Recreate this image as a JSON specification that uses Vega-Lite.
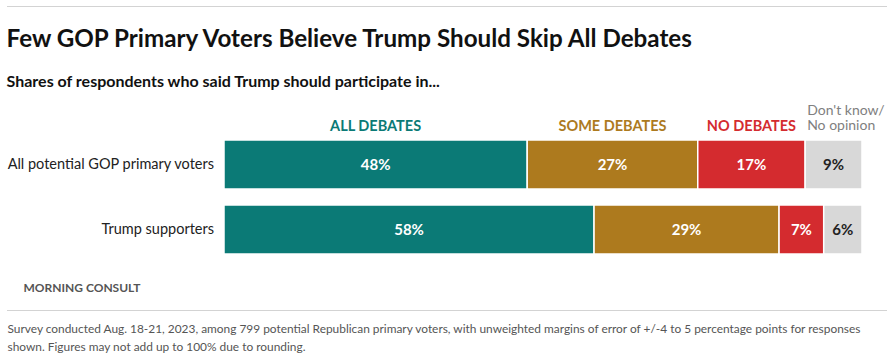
{
  "$schema": "https://vega.github.io/schema/vega-lite/v6.json",
  "background": "white",
  "padding": {"left": 6, "top": 6, "right": 0, "bottom": 0},
  "config": {"view": {"stroke": null}, "font": "Lato"},
  "datasets": {
    "shares": [
      {"group": "All potential GOP primary voters", "response": "ALL DEBATES", "value": 48, "order": 1},
      {"group": "All potential GOP primary voters", "response": "SOME DEBATES", "value": 27, "order": 2},
      {"group": "All potential GOP primary voters", "response": "NO DEBATES", "value": 17, "order": 3},
      {"group": "All potential GOP primary voters", "response": "Don't know/No opinion", "value": 9, "order": 4},
      {"group": "Trump supporters", "response": "ALL DEBATES", "value": 58, "order": 1},
      {"group": "Trump supporters", "response": "SOME DEBATES", "value": 29, "order": 2},
      {"group": "Trump supporters", "response": "NO DEBATES", "value": 7, "order": 3},
      {"group": "Trump supporters", "response": "Don't know/No opinion", "value": 6, "order": 4}
    ],
    "line": [{"s": 0, "e": 1}]
  },
  "spacing": 20,
  "vconcat": [
    {
      "width": 880,
      "height": 1,
      "data": {"name": "line"},
      "mark": {"type": "rule", "color": "#d3d3d3", "strokeWidth": 1},
      "encoding": {
        "x": {"field": "s", "type": "quantitative", "scale": {"domain": [0, 1]}, "axis": null},
        "x2": {"field": "e"}
      }
    },
    {
      "spacing": 10,
      "bounds": "flush",
      "hconcat": [
        {
          "width": 207,
          "height": 130,
          "title": {
            "text": "Few GOP Primary Voters Believe Trump Should Skip All Debates",
            "subtitle": "Shares of respondents who said Trump should participate in...",
            "anchor": "start",
            "frame": "bounds",
            "fontSize": 24.2,
            "fontWeight": "bold",
            "color": "#111111",
            "subtitleFontSize": 16,
            "subtitleFontWeight": "bold",
            "subtitleColor": "#111111",
            "subtitlePadding": 22,
            "offset": 42
          },
          "data": {"name": "shares"},
          "transform": [{"filter": "datum.order === 1"}],
          "mark": {"type": "text", "align": "right", "baseline": "middle", "fontSize": 14.5, "color": "#222222"},
          "encoding": {
            "y": {
              "field": "group",
              "type": "nominal",
              "sort": ["All potential GOP primary voters", "Trump supporters"],
              "scale": {"paddingInner": 0.246, "paddingOuter": 0.123},
              "axis": null
            },
            "x": {"value": "width"},
            "text": {"field": "group"}
          }
        },
        {
          "width": 638,
          "height": 130,
          "data": {"name": "shares"},
          "transform": [
            {"stack": "value", "groupby": ["group"], "sort": [{"field": "order"}], "offset": "normalize", "as": ["x0", "x1"]},
            {"calculate": "(datum.x0 + datum.x1) / 2", "as": "xm"},
            {"calculate": "datum.value + '%'", "as": "label"},
            {"calculate": "datum.order === 4 ? ['Don\\'t know/', 'No opinion'] : datum.response", "as": "header"}
          ],
          "encoding": {
            "y": {
              "field": "group",
              "type": "nominal",
              "sort": ["All potential GOP primary voters", "Trump supporters"],
              "scale": {"paddingInner": 0.246, "paddingOuter": 0.123},
              "axis": null
            }
          },
          "layer": [
            {
              "mark": {"type": "bar", "stroke": "white", "strokeWidth": 1.5},
              "encoding": {
                "x": {"field": "x0", "type": "quantitative", "scale": {"domain": [0, 1]}, "axis": null},
                "x2": {"field": "x1"},
                "color": {
                  "field": "response",
                  "type": "nominal",
                  "scale": {
                    "domain": ["ALL DEBATES", "SOME DEBATES", "NO DEBATES", "Don't know/No opinion"],
                    "range": ["#0b7a76", "#ad7a1e", "#d42b2f", "#d8d8d8"]
                  },
                  "legend": null
                }
              }
            },
            {
              "mark": {"type": "text", "fontSize": 15, "fontWeight": "bold", "baseline": "middle"},
              "encoding": {
                "x": {"field": "xm", "type": "quantitative"},
                "text": {"field": "label"},
                "color": {"condition": {"test": "datum.order === 4", "value": "#222222"}, "value": "white"}
              }
            },
            {
              "transform": [{"filter": "datum.group === 'All potential GOP primary voters' && datum.order < 4"}],
              "mark": {"type": "text", "fontSize": 14.5, "fontWeight": "bold", "baseline": "alphabetic", "yOffset": -33.5},
              "encoding": {
                "x": {"field": "xm", "type": "quantitative"},
                "text": {"field": "header"},
                "color": {"field": "response", "type": "nominal", "legend": null}
              }
            },
            {
              "transform": [{"filter": "datum.group === 'All potential GOP primary voters' && datum.order === 4"}],
              "mark": {"type": "text", "fontSize": 14, "align": "left", "baseline": "alphabetic", "dx": 2, "yOffset": -49.5, "color": "#808080", "lineHeight": 15},
              "encoding": {
                "x": {"field": "x0", "type": "quantitative"},
                "text": {"field": "header"}
              }
            }
          ]
        }
      ]
    },
    {
      "width": 880,
      "height": 1,
      "title": {
        "text": "MORNING CONSULT",
        "anchor": "start",
        "frame": "bounds",
        "fontSize": 12,
        "fontWeight": "bold",
        "color": "#555555",
        "offset": 15,
        "dx": 17
      },
      "data": {"name": "line"},
      "mark": {"type": "rule", "color": "#d3d3d3", "strokeWidth": 1},
      "encoding": {
        "x": {
          "field": "s",
          "type": "quantitative",
          "scale": {"domain": [0, 1]},
          "axis": {
            "domain": false,
            "ticks": false,
            "labels": false,
            "grid": false,
            "title": [
              "Survey conducted Aug. 18-21, 2023, among 799 potential Republican primary voters, with unweighted margins of error of +/-4 to 5 percentage points for responses",
              "shown. Figures may not add up to 100% due to rounding."
            ],
            "titleAnchor": "start",
            "titleAlign": "left",
            "titleBaseline": "top",
            "titleFontSize": 11.9,
            "titleFontWeight": "normal",
            "titleColor": "#555555",
            "titleLineHeight": 18.5,
            "titlePadding": 12
          }
        },
        "x2": {"field": "e"}
      }
    }
  ]
}
